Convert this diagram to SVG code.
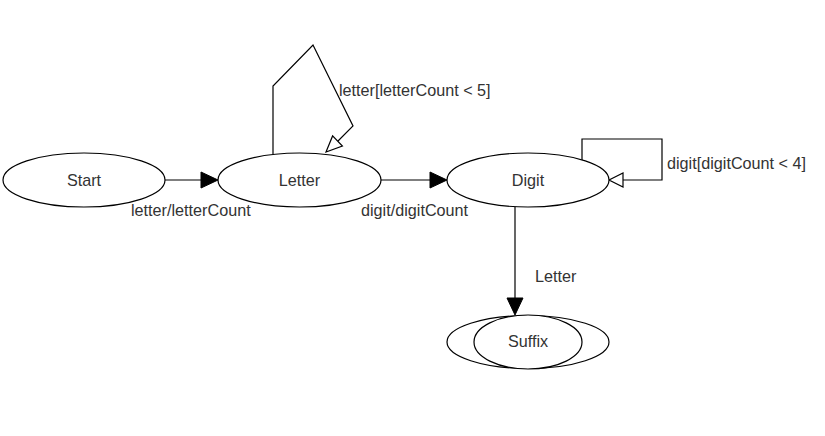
<svg xmlns="http://www.w3.org/2000/svg" width="825" height="436" viewBox="0 0 825 436">
<style>
.n{fill:#fff;stroke:#000;stroke-width:1.2}
.t{font-family:"Liberation Sans",Arial,sans-serif;font-size:16.2px;fill:#333}
.c{fill:none;stroke:#000;stroke-width:1.2}
.fa{fill:#000;stroke:#000}
.oa{fill:#fff;stroke:#000;stroke-width:1.2}
</style>
<rect width="825" height="436" fill="#fff"/>
<g id="connectors">
<line class="c" x1="165" y1="180" x2="203" y2="180"/>
<polygon class="fa" points="218,180 201,172 201,188"/>
<line class="c" x1="381" y1="180" x2="432" y2="180"/>
<polygon class="fa" points="447,180 430,172 430,188"/>
<polyline class="c" points="273,154 273,86 313,45 353,126 338,141"/>
<polygon class="oa" points="326,152 332.6,135.9 342.4,146"/>
<polyline class="c" points="582,163 582,139 662,139 662,180 623,180"/>
<polygon class="oa" points="609,180 623,173 623,187"/>
<line class="c" x1="515" y1="207" x2="515" y2="299"/>
<polygon class="fa" points="515,315 507,298 523,298"/>
<text class="t" x="131" y="216">letter/letterCount</text>
<text class="t" x="361" y="216">digit/digitCount</text>
<text class="t" x="339" y="96">letter[letterCount &lt; 5]</text>
<text class="t" x="667" y="169">digit[digitCount &lt; 4]</text>
<text class="t" x="535" y="282">Letter</text>
</g>
<g id="start">
<ellipse class="n" cx="84" cy="180" rx="81" ry="27"/>
<text class="t" x="84" y="186" text-anchor="middle">Start</text>
</g>
<g id="letter">
<ellipse class="n" cx="299.5" cy="180" rx="81.5" ry="27"/>
<text class="t" x="299.5" y="186" text-anchor="middle">Letter</text>
</g>
<g id="digit">
<ellipse class="n" cx="528" cy="180" rx="81" ry="27"/>
<text class="t" x="528" y="186" text-anchor="middle">Digit</text>
</g>
<g id="suffix">
<ellipse class="n" cx="528" cy="342" rx="81" ry="26.5"/>
<ellipse class="n" cx="528" cy="342" rx="54" ry="27"/>
<text class="t" x="528" y="347" text-anchor="middle">Suffix</text>
</g>
</svg>
